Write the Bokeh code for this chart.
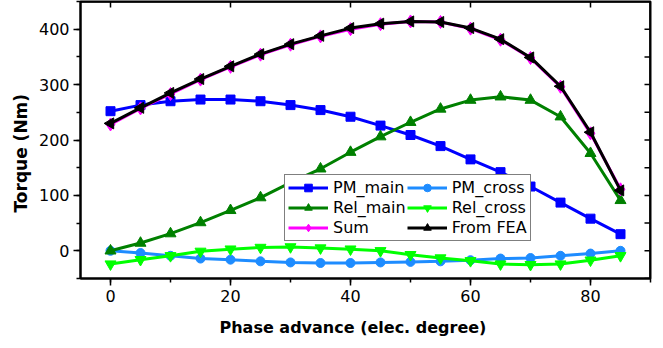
import numpy as np
from bokeh.plotting import figure
from bokeh.models import (LinearAxis, SingleIntervalTicker, Range1d, Legend,
                          LegendItem, Title)
from bokeh.embed import file_html
from bokeh.resources import INLINE

# Phase advance (electrical degrees)
phase = [0, 5, 10, 15, 20, 25, 30, 35, 40, 45, 50, 55, 60, 65, 70, 75, 80, 85]

# Torque components (Nm)
pm_main = [252, 263, 270, 273, 273, 270, 263, 254, 242, 226, 209, 189, 165, 142, 116, 87, 58, 30]
pm_cross = [0, -4, -9, -14, -16, -19, -21, -22, -22, -21, -20, -19, -17, -14, -13, -9, -5, 0]
rel_main = [0, 14, 31, 51, 73, 96, 123, 148, 178, 206, 232, 256, 272, 278, 272, 242, 176, 91]
rel_cross = [-24, -16, -9, -1, 3, 6, 7, 5, 3, 0, -7, -13, -18, -24, -25, -24, -17, -9]
torque_sum = [228, 257, 283, 309, 332, 354, 372, 387, 400, 409, 414, 413, 401, 381, 348, 296, 212, 111]
torque_fea = [230, 258, 285, 310, 333, 355, 373, 388, 402, 410, 414, 413, 402, 382, 349, 297, 214, 109]

# tick positions used for the mirrored top / right tick marks
x_ticks = [0, 20, 40, 60, 80]
y_ticks = [-50, 0, 50, 100, 150, 200, 250, 300, 350, 400]

X0, X1 = -5, 90
Y0, Y1 = -50, 450
FONT = "DejaVu Sans"

p = figure(width=663, height=348, output_backend="svg", toolbar_location=None,
           x_range=Range1d(X0, X1), y_range=Range1d(Y0, Y1),
           min_border_left=80, min_border_right=13, min_border_top=1,
           min_border_bottom=70, x_axis_type=None, y_axis_type=None)
p.outline_line_color = "black"
p.outline_line_width = 2
p.background_fill_color = "white"
p.border_fill_color = "white"

xt = SingleIntervalTicker(interval=20, num_minor_ticks=2)
yt = SingleIntervalTicker(interval=100, num_minor_ticks=2)

# bottom / left axes with outward ticks
xax = LinearAxis(ticker=xt)
yax = LinearAxis(ticker=yt)
for ax in (xax, yax):
    ax.axis_line_width = 2
    ax.major_tick_line_width = 1.5
    ax.minor_tick_line_width = 1.5
    ax.major_tick_in = 0
    ax.major_tick_out = 7
    ax.minor_tick_in = 0
    ax.minor_tick_out = 4
    ax.major_label_text_font = FONT
    ax.major_label_text_font_size = "16px"
    ax.major_label_text_color = "black"
    ax.major_label_standoff = 4
p.add_layout(xax, "below")
p.add_layout(yax, "left")

# axis titles as side titles, anchored from the frame's lower-left corner
p.add_layout(Title(text="Phase advance (elec. degree)", align="left", offset=139,
                   text_font=FONT, text_font_size="16px", text_font_style="bold",
                   text_color="black", standoff=23), "below")
p.add_layout(Title(text="Torque (Nm)", align="left", offset=66,
                   text_font=FONT, text_font_size="17px", text_font_style="bold",
                   text_color="black", standoff=10), "left")

# dotted grid on major and minor ticks
p.xgrid.ticker = xt
p.ygrid.ticker = yt
for g in (p.xgrid, p.ygrid):
    g.grid_line_color = "#8a8a8a"
    g.grid_line_dash = "2 2"
    g.grid_line_width = 1
    g.minor_grid_line_color = "#b4b4b4"
    g.minor_grid_line_dash = "2 2"
    g.minor_grid_line_width = 1

# top and right frame edges with inward tick marks
x_per_px = (X1 - X0) / 570.0
y_per_px = (Y1 - Y0) / 277.0
p.segment(x0=[X0, X1 - 0.6 * x_per_px], y0=[Y1 - 0.6 * y_per_px, Y0],
          x1=[X1, X1 - 0.6 * x_per_px], y1=[Y1 - 0.6 * y_per_px, Y1],
          line_color="black", line_width=1.5)
p.segment(x0=x_ticks, y0=[Y1] * len(x_ticks), x1=x_ticks,
          y1=[Y1 - 6 * y_per_px] * len(x_ticks), line_color="black", line_width=1.5)
p.segment(x0=[X1] * len(y_ticks), y0=y_ticks, x1=[X1 - 6 * x_per_px] * len(y_ticks),
          y1=y_ticks, line_color="black", line_width=1.5)

series = [
    ("PM_main", pm_main, "#0000FF", "square", 9, 0),
    ("PM_cross", pm_cross, "#1E8CFF", "circle", 9, 0),
    ("Rel_main", rel_main, "#008000", "triangle", 11, 0),
    ("Rel_cross", rel_cross, "#00FF00", "inverted_triangle", 11, 0),
    ("Sum", torque_sum, "#FF00FF", "diamond", 13, 0),
    ("From FEA", torque_fea, "black", "triangle", 11, 90),
]

items = {}
for name, vals, color, marker, size, ang in series:
    ln = p.line(phase, vals, line_color=color, line_width=3)
    sc = p.scatter(phase, vals, marker=marker, size=size, angle=ang,
                   angle_units="deg", fill_color=color, line_color=color)
    items[name] = LegendItem(label=name, renderers=[ln, sc])

order = ["PM_main", "Rel_main", "Sum", "PM_cross", "Rel_cross", "From FEA"]
legend = Legend(items=[items[k] for k in order], ncols=2,
                location=(204, 37), orientation="vertical")
legend.label_text_font = FONT
legend.label_text_font_size = "16px"
legend.label_text_color = "black"
legend.glyph_width = 40
legend.glyph_height = 19
legend.label_height = 19
legend.label_standoff = 5
legend.spacing = 1
legend.padding = 3
legend.margin = 0
legend.border_line_color = "black"
legend.border_line_width = 1.5
legend.background_fill_alpha = 1.0
p.add_layout(legend, "center")

open("out.html", "w").write(file_html(p, INLINE))
